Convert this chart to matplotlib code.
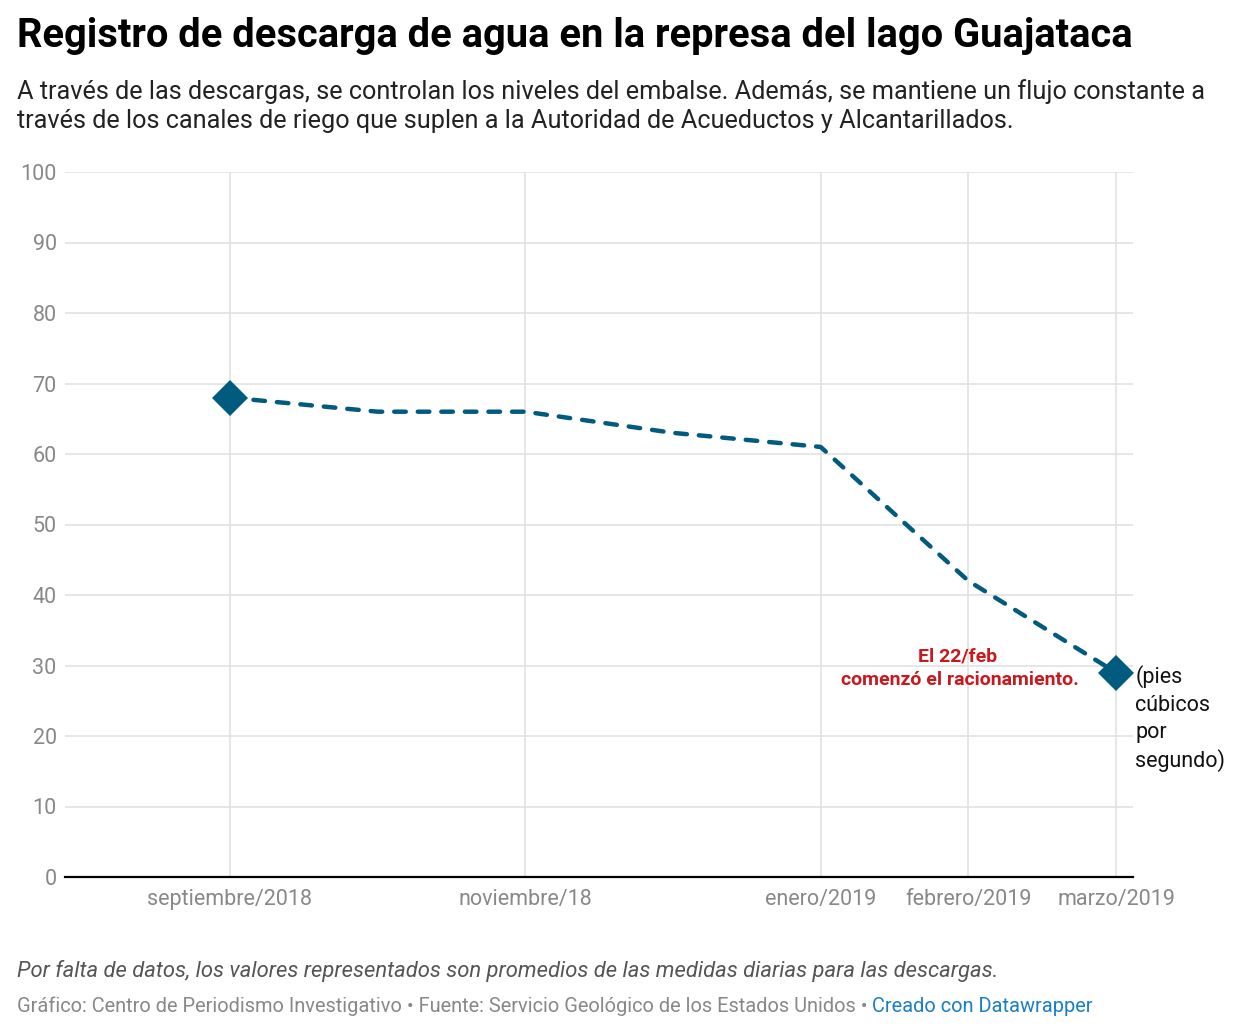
import matplotlib
matplotlib.use("Agg")
import matplotlib.pyplot as plt
from matplotlib.ticker import FixedLocator

plt.rcParams['font.family'] = ['Roboto', 'DejaVu Sans']

# data (monthly averages, ft3/s)
months = ["sep", "oct", "nov", "dic", "ene", "feb", "mar"]
month_idx = [0, 1, 2, 3, 4, 5, 6]
discharge = [68, 66, 66, 63, 61, 42, 29]

tick_idx = [0, 2, 4, 5, 6]
tick_labels = ["septiembre/2018", "noviembre/18", "enero/2019", "febrero/2019", "marzo/2019"]
y_ticks = [0, 10, 20, 30, 40, 50, 60, 70, 80, 90, 100]

LINE_COLOR = "#005b7f"
GRID_COLOR = "#e2e2e2"
TICK_COLOR = "#888888"
RED = "#c8191f"

W, H = 1244, 1030
fig = plt.figure(figsize=(W / 100, H / 100), dpi=100)


def px(x, y):
    return x / W, 1 - y / H


ax_left, ax_right, ax_top, ax_bottom = 65, 1133, 172, 877
ax = fig.add_axes([ax_left / W, 1 - ax_bottom / H, (ax_right - ax_left) / W, (ax_bottom - ax_top) / H])

ax.plot(month_idx, discharge, color=LINE_COLOR, lw=3.2, linestyle=(0, (2.6, 2.7)),
        dash_capstyle="round", solid_capstyle="round", zorder=3)
ax.plot([month_idx[0], month_idx[-1]], [discharge[0], discharge[-1]], linestyle="none",
        marker="D", ms=18, color=LINE_COLOR, markeredgewidth=0, zorder=4)

per_month = (1116 - 230) / 6
ax.set_xlim((ax_left - 230) / per_month, (ax_right - 230) / per_month)
ax.set_ylim(0, 100)

ax.xaxis.set_major_locator(FixedLocator(tick_idx))
ax.set_xticklabels(tick_labels)
ax.set_yticks(y_ticks)
ax.grid(True, color=GRID_COLOR, lw=1.2)
ax.set_axisbelow(True)
for s in ["top", "right", "left"]:
    ax.spines[s].set_visible(False)
ax.spines["bottom"].set_color("black")
ax.spines["bottom"].set_linewidth(1.6)
ax.tick_params(axis="both", length=0, labelsize=15.5, labelcolor=TICK_COLOR)
ax.tick_params(axis="y", pad=6)
ax.tick_params(axis="x", pad=9)

# annotations
ax.text((958 - 230) / per_month, 30.5, "El 22/feb",
        color=RED, fontsize=14, fontweight="bold", ha="center", va="baseline")
ax.text((960 - 230) / per_month, 27.3, "comenzó el racionamiento.",
        color=RED, fontsize=14, fontweight="bold", ha="center", va="baseline")
ax.text(6.13, 30.0, "(pies\ncúbicos\npor\nsegundo)", fontsize=15.5, color="#111111",
        ha="left", va="top", linespacing=1.38, clip_on=False)

# header / footer
fig.text(*px(17, 47), "Registro de descarga de agua en la represa del lago Guajataca",
         fontsize=28.7, fontweight="bold", color="black", va="baseline")
fig.text(*px(17, 99), "A través de las descargas, se controlan los niveles del embalse. Además, se mantiene un flujo constante a",
         fontsize=18.2, color="#222222", va="baseline")
fig.text(*px(17, 128), "través de los canales de riego que suplen a la Autoridad de Acueductos y Alcantarillados.",
         fontsize=18.2, color="#222222", va="baseline")
fig.text(*px(17, 977), "Por falta de datos, los valores representados son promedios de las medidas diarias para las descargas.",
         fontsize=15.8, style="italic", color="#555555", va="baseline")
credit = fig.text(*px(17, 1012), "Gráfico: Centro de Periodismo Investigativo • Fuente: Servicio Geológico de los Estados Unidos • ",
                  fontsize=14.4, color=TICK_COLOR, va="baseline")
fig.canvas.draw()
bb = credit.get_window_extent()
fig.text(bb.x1 / W, 1 - 1012 / H, "Creado con Datawrapper", fontsize=14.4, color="#1a80c4", va="baseline")

fig.savefig("out.png", dpi=100)
